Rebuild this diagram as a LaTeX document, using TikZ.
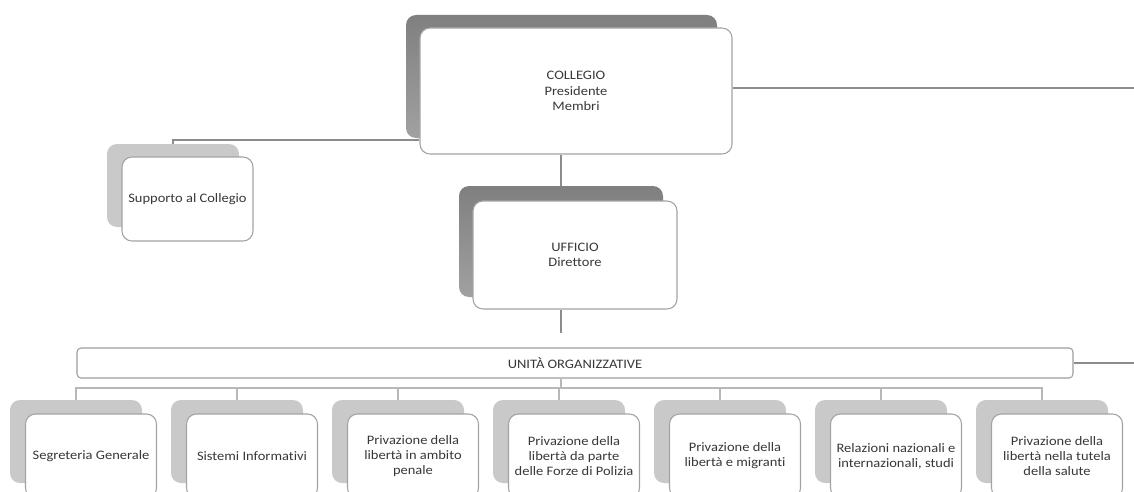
\documentclass[tikz,border=0pt]{standalone}
\usepackage{fontspec}
\setmainfont{Carlito}[FakeStretch=1.12,Ligatures=NoCommon]
\begin{document}
\begin{tikzpicture}[x=0.75pt,y=-0.75pt,
  txt/.style={font=\fontsize{9.7}{11.4}\selectfont, text=black!78, align=center},
  darkshad/.style={draw=none, rounded corners=7.5pt, top color=black!50, bottom color=black!37, inner sep=0pt},
  lightshad/.style={draw=none, rounded corners=7.5pt, fill=black!21, inner sep=0pt},
  front/.style={draw=black!36, line width=0.8pt, fill=white, rounded corners=7.5pt, inner sep=0pt, txt},
  unitbox/.style={draw=black!38, line width=0.8pt, fill=white, rounded corners=3pt, inner sep=0pt, txt},
  conn/.style={draw=black!45, line width=0.8pt},
  branch/.style={draw=black!28, line width=1pt},
  ]
\clip (0,0) rectangle (1134,492);
\fill[white] (0,0) rectangle (1134,492);

% COLLEGIO
\node[darkshad, minimum width=233.25pt, minimum height=92.25pt] (cs) at (561.5,76.5) {};
\node[front, minimum width=234pt, minimum height=94.5pt] (cf) at (576,91) {COLLEGIO\\Presidente\\Membri};

% Supporto al Collegio
\node[lightshad, minimum width=99pt, minimum height=62.25pt] (ss) at (173,185.5) {};
\node[front, minimum width=98.25pt, minimum height=63pt] (sf) at (187.5,199) {Supporto al Collegio};

% UFFICIO
\node[darkshad, minimum width=153pt, minimum height=83.25pt] (us) at (561,241.5) {};
\node[front, minimum width=153pt, minimum height=81pt] (uf) at (575,255) {UFFICIO\\Direttore};

% UNITA ORGANIZZATIVE
\node[unitbox, minimum width=747pt, minimum height=22.5pt] (un) at (575,363) {UNITÀ ORGANIZZATIVE};

% children
\foreach \i/\t in {1/{Segreteria Generale},
                   2/{Sistemi Informativi},
                   3/{Privazione della\\libertà in ambito\\penale},
                   4/{Privazione della\\libertà da parte\\delle Forze di Polizia},
                   5/{Privazione della\\libertà e migranti},
                   6/{Relazioni nazionali e\\internazionali, studi},
                   7/{Privazione della\\libertà nella tutela\\della salute}}{
  \pgfmathsetmacro{\lx}{10+161*(\i-1)}
  \node[lightshad, minimum width=99pt, minimum height=62.25pt] (c\i s) at (\lx+66,441.5) {};
  \node[front, minimum width=98.25pt, minimum height=63pt] (c\i f) at (\lx+81,456) {\t};
}

% connectors
\coordinate (rend) at (1134,88);
\coordinate (rend2) at (1134,363);
\coordinate (ujoin) at (561,333);
\coordinate (bus) at (561,388);

\draw[conn] (cf.east |- rend) -- (rend);
\draw[conn] (ss.north) |- (cf.west |- 0,140);
\draw[conn] (us.north) -- (us.north |- cf.south);
\draw[conn] (ujoin |- uf.south) -- (ujoin);
\draw[conn] (un.east) -- (rend2);

\draw[branch] (ujoin |- un.south) -- (bus);
\draw[branch] (c1s.north) |- (bus) -| (c7s.north);
\foreach \i in {2,...,6}{
  \draw[branch] (c\i s.north) -- (c\i s.north |- bus);
}
\end{tikzpicture}
\end{document}
